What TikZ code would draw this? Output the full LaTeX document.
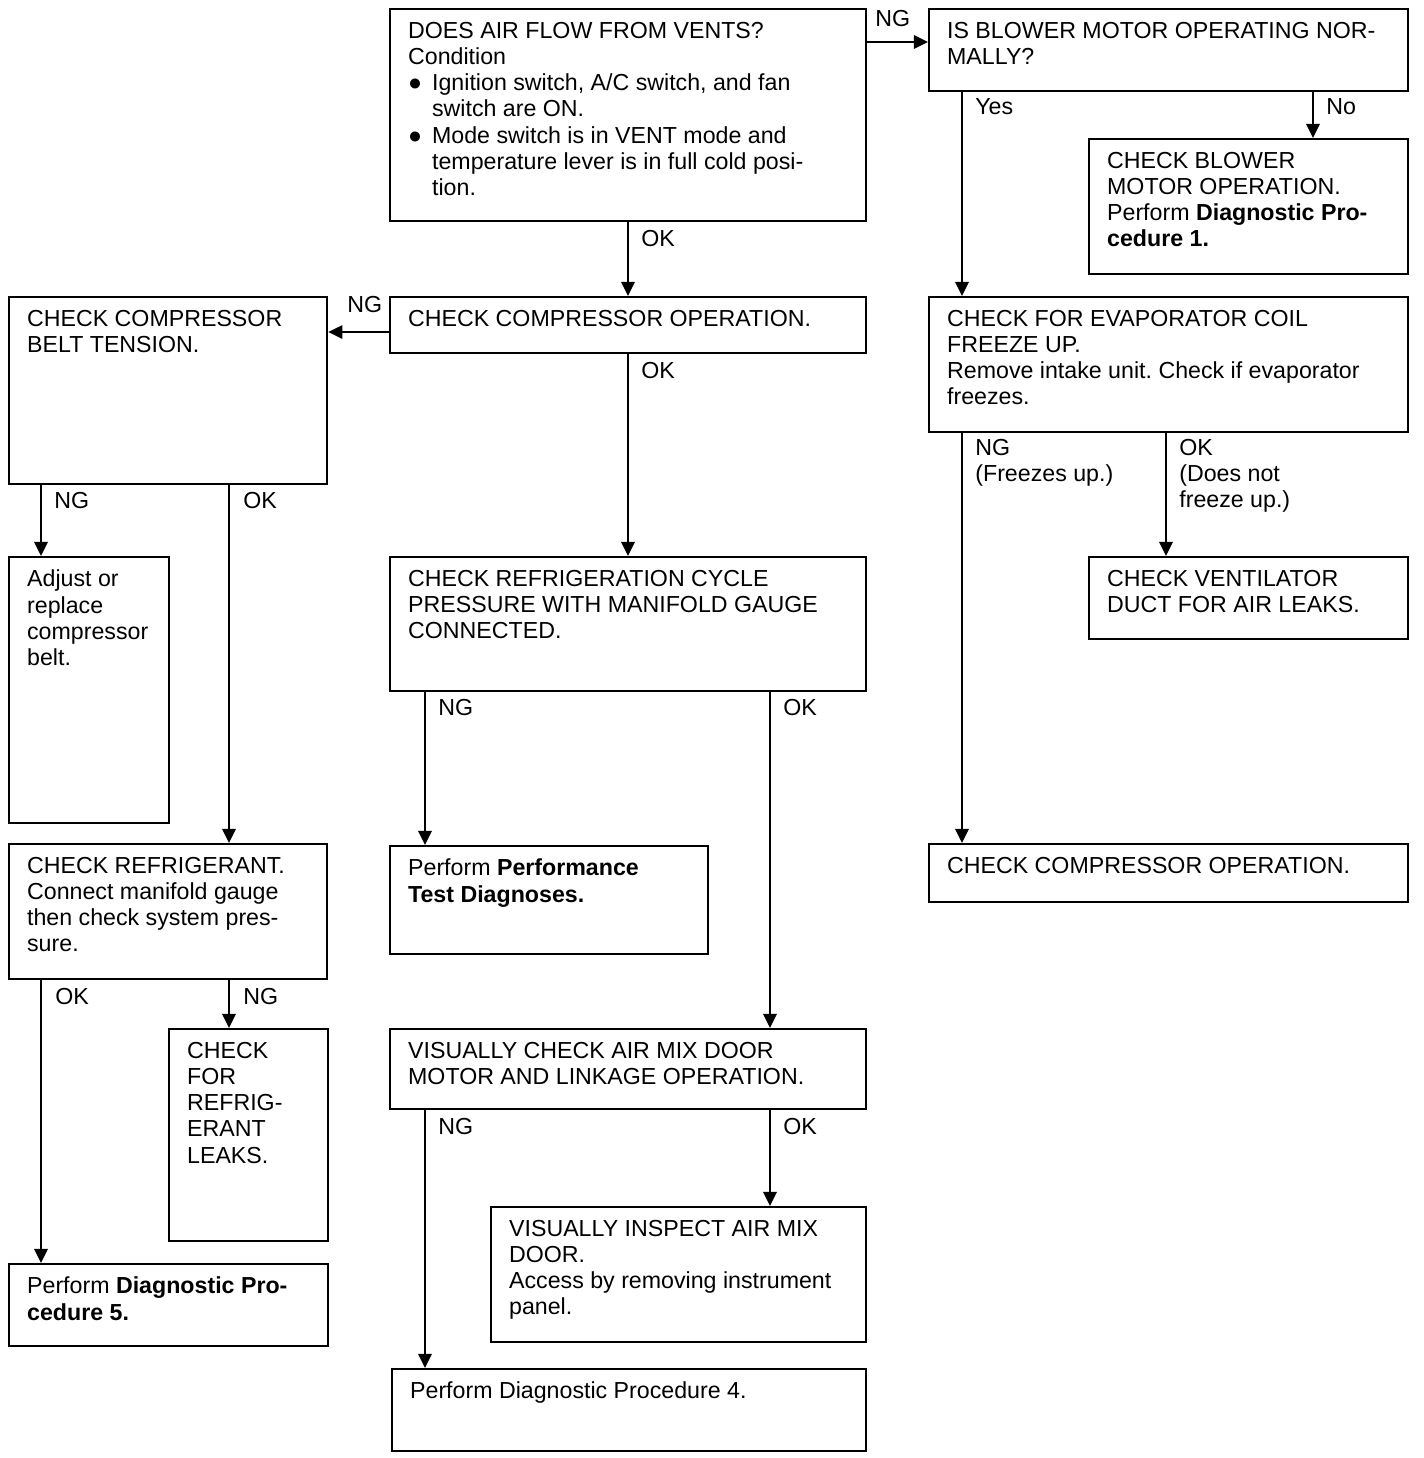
\documentclass[tikz,border=0pt]{standalone}
\usepackage{fontspec}
\setmainfont{Liberation Sans}
\usetikzlibrary{arrows.meta}
\frenchspacing
\newlength{\px}
\setlength{\px}{0.02cm}
\newcommand{\btext}[3]{\parbox[t][#2\px][t]{#1\px}{\leftskip=18\px\rightskip=0pt plus 1fil\parfillskip=0pt plus 1fil\parindent=0pt\vspace*{13\px}#3}}
\newcommand{\bitem}[1]{\par\hangindent=24\px\hangafter=1\makebox[24\px][l]{●}#1\par}
\tikzset{
    box/.style = {draw, line width=1.3pt, inner sep=0pt, anchor=north west},
    arrow/.style = {line width=1.3pt, -{Triangle[length=8pt, width=7.5pt]}},
    lbl/.style = {inner sep=0pt, anchor=north west, align=left}
}
\begin{document}
\begin{tikzpicture}[x=0.02cm, y=-0.02cm, font=\fontsize{13.2}{14.9}\selectfont]
\useasboundingbox (0,0) rectangle (1424,1458);

% Boxes
\node[box] (airflow) at (389,8) {\btext{476}{212}{DOES AIR FLOW FROM VENTS?\\Condition
    \bitem{Ignition switch, A/C switch, and fan\\switch are ON.}
    \bitem{Mode switch is in VENT mode and\\temperature lever is in full cold posi-\\tion.}}};
\node[box] (blower) at (928,8) {\btext{479}{82}{IS BLOWER MOTOR OPERATING NOR-\\MALLY?}};
\node[box] (blowerchk) at (1088,138) {\btext{319}{135}{CHECK BLOWER\\MOTOR OPERATION.\\Perform \textbf{Diagnostic Pro-}\\\textbf{cedure 1.}}};
\node[box] (belt) at (8,296) {\btext{318}{187}{CHECK COMPRESSOR\\BELT TENSION.}};
\node[box] (compop) at (389,296) {\btext{476}{56}{CHECK COMPRESSOR OPERATION.}};
\node[box] (evap) at (928,296) {\btext{479}{135}{CHECK FOR EVAPORATOR COIL\\FREEZE UP.\\Remove intake unit. Check if evaporator\\freezes.}};
\node[box] (adjust) at (8,556) {\btext{160}{266}{Adjust or\\replace\\compressor\\belt.}};
\node[box] (cycle) at (389,556) {\btext{476}{134}{CHECK REFRIGERATION CYCLE\\PRESSURE WITH MANIFOLD GAUGE\\CONNECTED.}};
\node[box] (duct) at (1088,556) {\btext{319}{82}{CHECK VENTILATOR\\DUCT FOR AIR LEAKS.}};
\node[box] (refrig) at (8,843) {\btext{318}{135}{CHECK REFRIGERANT.\\Connect manifold gauge\\then check system pres-\\sure.}};
\node[box] (perftest) at (389,845) {\btext{318}{108}{Perform \textbf{Performance}\\\textbf{Test Diagnoses.}}};
\node[box] (compop2) at (928,843) {\btext{479}{58}{CHECK COMPRESSOR OPERATION.}};
\node[box] (leaks) at (168,1028) {\btext{159}{212}{CHECK\\FOR\\REFRIG-\\ERANT\\LEAKS.}};
\node[box] (mixdoor) at (389,1028) {\btext{476}{80}{VISUALLY CHECK AIR MIX DOOR\\MOTOR AND LINKAGE OPERATION.}};
\node[box] (inspect) at (490,1206) {\btext{375}{135}{VISUALLY INSPECT AIR MIX\\DOOR.\\Access by removing instrument\\panel.}};
\node[box] (proc5) at (8,1263) {\btext{319}{82}{Perform \textbf{Diagnostic Pro-}\\\textbf{cedure 5.}}};
\node[box] (proc4) at (391,1368) {\btext{474}{82}{Perform Diagnostic Procedure 4.}};

% Connectors
\draw[arrow] (airflow.east |- 0,42) -- (blower.west |- 0,42);
\draw[arrow] (962,0 |- blower.south) -- (962,0 |- evap.north);
\draw[arrow] (1313,0 |- blower.south) -- (1313,0 |- blowerchk.north);
\draw[arrow] (628,0 |- airflow.south) -- (628,0 |- compop.north);
\draw[arrow] (compop.west |- 0,332) -- (belt.east |- 0,332);
\draw[arrow] (628,0 |- compop.south) -- (628,0 |- cycle.north);
\draw[arrow] (41,0 |- belt.south) -- (41,0 |- adjust.north);
\draw[arrow] (229,0 |- belt.south) -- (229,0 |- refrig.north);
\draw[arrow] (962,0 |- evap.south) -- (962,0 |- compop2.north);
\draw[arrow] (1166,0 |- evap.south) -- (1166,0 |- duct.north);
\draw[arrow] (425,0 |- cycle.south) -- (425,0 |- perftest.north);
\draw[arrow] (770,0 |- cycle.south) -- (770,0 |- mixdoor.north);
\draw[arrow] (41,0 |- refrig.south) -- (41,0 |- proc5.north);
\draw[arrow] (229,0 |- refrig.south) -- (229,0 |- leaks.north);
\draw[arrow] (425,0 |- mixdoor.south) -- (425,0 |- proc4.north);
\draw[arrow] (770,0 |- mixdoor.south) -- (770,0 |- inspect.north);

% Labels
\node[lbl] (l1) at (875,10) {NG};
\node[lbl] (l2) at (975,98) {Yes};
\node[lbl] (l3) at (1326,98) {No};
\node[lbl] (l4) at (641,230) {OK};
\node[lbl] (l5) at (347,296) {NG};
\node[lbl] (l6) at (641,362) {OK};
\node[lbl] (l7) at (54,492) {NG};
\node[lbl] (l8) at (243,492) {OK};
\node[lbl] (l9) at (975,439) {NG\\(Freezes up.)};
\node[lbl] (l10) at (1179,439) {OK\\(Does not\\freeze up.)};
\node[lbl] (l11) at (438,699) {NG};
\node[lbl] (l12) at (783,699) {OK};
\node[lbl] (l13) at (55,988) {OK};
\node[lbl] (l14) at (243,988) {NG};
\node[lbl] (l15) at (438,1118) {NG};
\node[lbl] (l16) at (783,1118) {OK};
\end{tikzpicture}
\end{document}
